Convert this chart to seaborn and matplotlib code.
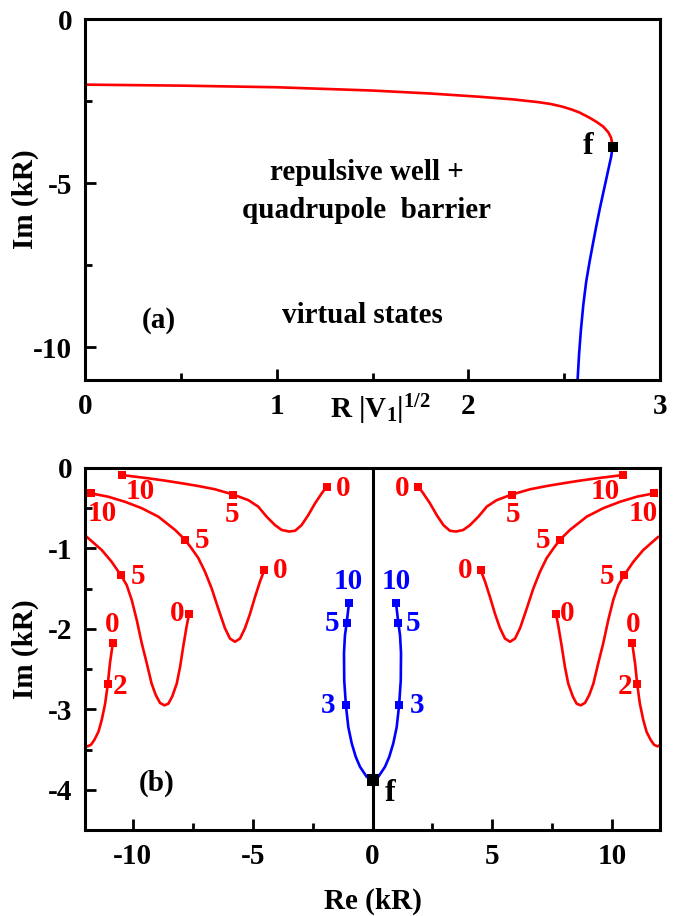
import numpy as np
import pandas as pd
import matplotlib
matplotlib.use("Agg")
import matplotlib.pyplot as plt
from matplotlib.ticker import MultipleLocator
import seaborn as sns

# ---- panel (a): pole trajectory vs R|V1|^(1/2)
a_red_x = [0.0, 0.5, 1.0, 1.5, 1.8, 2.06, 2.234, 2.36, 2.43, 2.49, 2.54, 2.58, 2.63, 2.67,
           2.704, 2.73, 2.745, 2.753]
a_red_y = [-2.0, -2.03, -2.08, -2.18, -2.27, -2.37, -2.45, -2.53, -2.59, -2.67, -2.76, -2.85,
           -3.0, -3.14, -3.28, -3.45, -3.62, -3.89]
a_blue_x = [2.753, 2.745, 2.73, 2.715, 2.70, 2.687, 2.668, 2.650, 2.634, 2.615, 2.600, 2.587,
            2.578, 2.57]
a_blue_y = [-3.89, -4.2, -4.6, -5.0, -5.4, -5.75, -6.3, -6.85, -7.35, -8.0, -8.7, -9.5,
            -10.2, -11.0]
a_f = (2.753, -3.89)

# ---- panel (b): right-hand branches (left side is the mirror image, Re -> -Re)
curve_A_re = [1.91, 2.12, 2.40, 2.68, 2.96, 3.23, 3.48, 3.79, 4.07, 4.42, 4.77, 5.18, 5.81,
              6.57, 7.27, 7.96, 8.66, 9.36, 10.47]
curve_A_im = [-0.232, -0.315, -0.44, -0.585, -0.71, -0.78, -0.79, -0.77, -0.71, -0.605, -0.48,
              -0.40, -0.33, -0.265, -0.224, -0.19, -0.157, -0.128, -0.087]
curve_B_re = [4.515, 4.70, 4.90, 5.11, 5.32, 5.53, 5.74, 5.95, 6.16, 6.44, 6.71, 6.99, 7.27,
              7.55, 7.83, 8.24, 8.94, 9.63, 10.33, 11.03, 11.75]
curve_B_im = [-1.269, -1.414, -1.60, -1.81, -1.99, -2.12, -2.16, -2.12, -1.99, -1.745, -1.50,
              -1.29, -1.12, -1.00, -0.89, -0.77, -0.605, -0.50, -0.42, -0.357, -0.315]
curve_C_re = [7.66, 7.76, 7.90, 8.03, 8.17, 8.36, 8.52, 8.69, 8.87, 9.05, 9.22, 9.42, 9.63,
              9.84, 10.05, 10.26, 10.51, 10.89, 11.30, 11.93]
curve_C_im = [-1.82, -1.97, -2.22, -2.47, -2.68, -2.84, -2.93, -2.95, -2.92, -2.82, -2.68,
              -2.43, -2.18, -1.89, -1.64, -1.455, -1.33, -1.165, -1.02, -0.855]
curve_D_re = [10.84, 10.96, 11.05, 11.16, 11.30, 11.44, 11.61, 11.75, 11.89, 11.97]
curve_D_im = [-2.18, -2.43, -2.69, -2.93, -3.13, -3.28, -3.38, -3.44, -3.46, -3.45]
blue_re = [0.0, 0.24, 0.52, 0.70, 0.87, 1.01, 1.11, 1.18, 1.19, 1.15, 1.08, 0.98]
blue_im = [-3.88, -3.84, -3.715, -3.59, -3.42, -3.22, -2.95, -2.64, -2.30, -2.08, -1.93, -1.675]

# marked points: Re, Im, label
red_mark_re = [1.91, 5.81, 10.47, 4.515, 7.83, 11.75, 7.66, 10.51, 10.84, 11.05]
red_mark_im = [-0.232, -0.33, -0.087, -1.269, -0.89, -0.315, -1.82, -1.33, -2.18, -2.69]
red_mark_lab = ["0", "5", "10", "0", "5", "10", "0", "5", "0", "2"]
red_lab_re = [1.22, 5.85, 9.70, 3.86, 7.13, 11.30, 8.14, 9.77, 10.88, 10.54]
red_lab_im = [-0.25, -0.58, -0.29, -1.27, -0.90, -0.56, -1.81, -1.35, -1.95, -2.72]
blue_mark_re = [1.11, 1.08, 0.98]
blue_mark_im = [-2.95, -1.93, -1.675]
blue_mark_lab = ["3", "5", "10"]
blue_lab_re = [1.85, 1.70, 1.0]
blue_lab_im = [-2.95, -1.93, -1.41]
b_f = (0.0, -3.88)

sns.set_theme(style="ticks")
plt.rcParams["font.family"] = ["Liberation Serif", "DejaVu Serif"]
plt.rcParams["font.weight"] = "bold"
plt.rcParams["axes.labelweight"] = "bold"
plt.rcParams["mathtext.fontset"] = "custom"
plt.rcParams["mathtext.rm"] = "Liberation Serif:bold"
plt.rcParams["mathtext.it"] = "Liberation Serif:bold"
plt.rcParams["mathtext.bf"] = "Liberation Serif:bold"
plt.rcParams["axes.unicode_minus"] = False
plt.rcParams["text.color"] = "black"
plt.rcParams["axes.labelcolor"] = "black"
plt.rcParams["xtick.color"] = "black"
plt.rcParams["ytick.color"] = "black"
plt.rcParams["xtick.labelcolor"] = "black"
plt.rcParams["ytick.labelcolor"] = "black"

RED, BLUE = "#ff0000", "#0000ff"
FS = 21

fig = plt.figure(figsize=(6.85, 9.16), dpi=100)
ax1 = fig.add_axes([85 / 685, 1 - 380 / 916, 575 / 685, 361 / 916])
ax2 = fig.add_axes([85 / 685, 1 - 830 / 916, 575 / 685, 362 / 916])


def style_axes(ax):
    for s in ax.spines.values():
        s.set_linewidth(2.2)
        s.set_color("black")
    ax.tick_params(which="both", direction="in", width=2, labelsize=FS, pad=9,
                   right=False, top=False, colors="black")
    ax.tick_params(which="major", length=8)
    ax.tick_params(which="minor", length=5)


# ---------- panel (a)
dfa_r = pd.DataFrame({"x": a_red_x, "y": a_red_y})
dfa_b = pd.DataFrame({"x": a_blue_x, "y": a_blue_y})
sns.lineplot(data=dfa_r, x="x", y="y", sort=False, estimator=None, color=RED, lw=1.9, ax=ax1)
sns.lineplot(data=dfa_b, x="x", y="y", sort=False, estimator=None, color=BLUE, lw=1.9, ax=ax1)
ax1.scatter([a_f[0]], [a_f[1]], marker="s", s=60, color="black", zorder=5, linewidths=0)
ax1.set_xlim(0, 3)
ax1.set_ylim(-11, 0)
ax1.xaxis.set_major_locator(MultipleLocator(1))
ax1.xaxis.set_minor_locator(MultipleLocator(0.5))
ax1.yaxis.set_major_locator(MultipleLocator(5))
ax1.yaxis.set_minor_locator(MultipleLocator(2.5))
style_axes(ax1)
ax1.set_xlabel("")
ax1.set_ylabel("Im (kR)", fontsize=FS)
ax1.yaxis.set_label_coords(-0.08, 0.5)
ax1.text(0.513, -0.083, r"R |V$_1$|$^{1/2}$", transform=ax1.transAxes, fontsize=FS,
         ha="center", va="center")
ax1.text(2.625, -3.89, "f", fontsize=FS + 2, ha="center", va="center")
ax1.text(1.47, -4.69, "repulsive well +", fontsize=FS, ha="center", va="center")
ax1.text(1.47, -5.82, "quadrupole  barrier", fontsize=FS, ha="center", va="center")
ax1.text(1.445, -9.02, "virtual states", fontsize=FS, ha="center", va="center")
ax1.text(0.384, -9.18, "(a)", fontsize=FS, ha="center", va="center")

# ---------- panel (b)
ax2.axvline(0, color="black", lw=2.2, zorder=1)
for re, im in [(curve_A_re, curve_A_im), (curve_B_re, curve_B_im),
               (curve_C_re, curve_C_im), (curve_D_re, curve_D_im)]:
    for sgn in (1, -1):
        d = pd.DataFrame({"re": sgn * np.array(re), "im": im})
        sns.lineplot(data=d, x="re", y="im", sort=False, estimator=None, color=RED, lw=1.9, ax=ax2)
for sgn in (1, -1):
    d = pd.DataFrame({"re": sgn * np.array(blue_re), "im": blue_im})
    sns.lineplot(data=d, x="re", y="im", sort=False, estimator=None, color=BLUE, lw=1.9, ax=ax2)

mk_r = pd.DataFrame({"re": np.r_[red_mark_re, -np.array(red_mark_re)],
                     "im": red_mark_im * 2})
mk_b = pd.DataFrame({"re": np.r_[blue_mark_re, -np.array(blue_mark_re)],
                     "im": blue_mark_im * 2})
sns.scatterplot(data=mk_r, x="re", y="im", marker="s", s=34, color=RED, linewidth=0, ax=ax2, zorder=4)
sns.scatterplot(data=mk_b, x="re", y="im", marker="s", s=34, color=BLUE, linewidth=0, ax=ax2, zorder=4)
ax2.scatter([b_f[0]], [b_f[1]], marker="s", s=70, color="black", zorder=5, linewidths=0)

for sgn in (1, -1):
    for xr, yr, t in zip(red_lab_re, red_lab_im, red_mark_lab):
        ax2.text(sgn * xr, yr, t, color=RED, fontsize=FS, ha="center", va="center")
    for xb, yb, t in zip(blue_lab_re, blue_lab_im, blue_mark_lab):
        ax2.text(sgn * xb, yb, t, color=BLUE, fontsize=FS, ha="center", va="center")
ax2.text(0.73, -4.05, "f", fontsize=FS + 2, ha="center", va="center")
ax2.text(-9.03, -3.92, "(b)", fontsize=FS, ha="center", va="center")

ax2.set_xlim(-12, 12)
ax2.set_ylim(-4.5, 0)
ax2.xaxis.set_major_locator(MultipleLocator(5))
ax2.xaxis.set_minor_locator(MultipleLocator(2.5))
ax2.yaxis.set_major_locator(MultipleLocator(1))
ax2.yaxis.set_minor_locator(MultipleLocator(0.5))
style_axes(ax2)
ax2.set_xlabel("Re (kR)", fontsize=FS)
ax2.set_ylabel("Im (kR)", fontsize=FS)
ax2.xaxis.set_label_coords(0.5, -0.16)
ax2.yaxis.set_label_coords(-0.08, 0.5)

fig.savefig("out.png", dpi=100)
